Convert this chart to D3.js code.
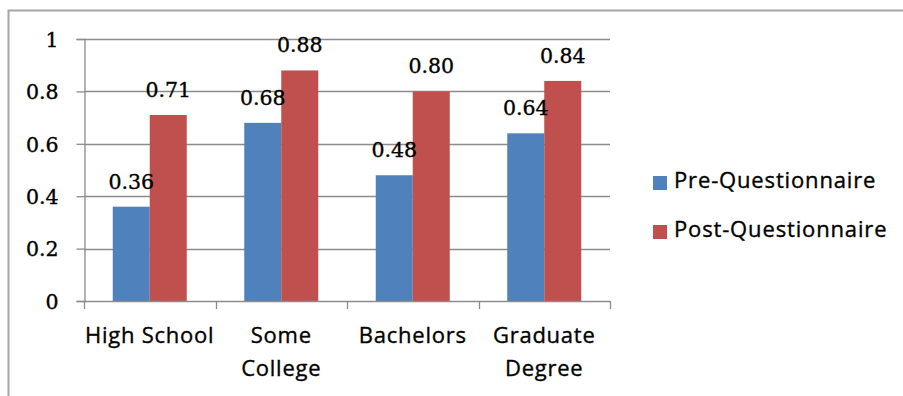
<!DOCTYPE html>
<html>
<head>
<meta charset="utf-8">
<script src="https://cdn.jsdelivr.net/npm/d3@7/dist/d3.min.js"></script>
<style>
  html, body { margin: 0; padding: 0; background: #fff; }
  svg { display: block; }
</style>
</head>
<body>
<svg id="chart" width="903" height="396"></svg>
<script>
// Education level categories (label lines)
const categories = ["High School", "Some College", "Bachelors", "Graduate Degree"];
const categoryLines = [["High School"], ["Some", "College"], ["Bachelors"], ["Graduate", "Degree"]];
const seriesNames = ["Pre-Questionnaire", "Post-Questionnaire"];
const preValues = [0.36, 0.68, 0.48, 0.64];
const postValues = [0.71, 0.88, 0.80, 0.84];
const yTicks = [0, 0.2, 0.4, 0.6, 0.8, 1];
const colors = ["#4F81BD", "#C0504D"];

const svg = d3.select("#chart");
const W = 903, H = 396;

// chart-area frame (runs off the right and bottom edges)
svg.append("rect")
  .attr("x", 8.5).attr("y", 10.5)
  .attr("width", W + 20).attr("height", H + 20)
  .attr("fill", "#fff")
  .attr("stroke", "#a6a6a6").attr("stroke-width", 2);

const plot = { left: 84, right: 610, top: 39, bottom: 301 };

const x = d3.scaleBand().domain(categories).range([plot.left, plot.right]).paddingInner(0).paddingOuter(0);
const y = d3.scaleLinear().domain([0, 1]).range([plot.bottom, plot.top]);
const barW = 37;
const x1 = d3.scaleBand().domain(seriesNames).range([0, barW * 2]);

const serifFont = "'DejaVu Serif', serif";
const sansFont = "'Open Sans', 'Noto Sans', sans-serif";

// slightly heavier text strokes
function heavy(sel) {
  return sel.attr("stroke", "#000").attr("stroke-width", 0.35).attr("paint-order", "stroke");
}

// gridlines
svg.append("g").selectAll("line").data(yTicks.filter(d => d > 0)).join("line")
  .attr("x1", plot.left).attr("x2", plot.right)
  .attr("y1", d => Math.round(y(d)) + 0.5).attr("y2", d => Math.round(y(d)) + 0.5)
  .attr("stroke", "#8c8c8c").attr("stroke-width", 1.3);

// bars
const data = categories.map((c, i) => ({ c, vals: [preValues[i], postValues[i]] }));
const groups = svg.append("g").selectAll("g").data(data).join("g")
  .attr("transform", d => `translate(${x(d.c) + x.bandwidth() / 2 - barW},0)`);

groups.selectAll("rect").data(d => d.vals.map((v, j) => ({ v, j }))).join("rect")
  .attr("x", d => x1(seriesNames[d.j]))
  .attr("width", barW)
  .attr("y", d => y(d.v))
  .attr("height", d => y(0) - y(d.v))
  .attr("fill", d => colors[d.j]);

// value labels
groups.selectAll("text").data(d => d.vals.map((v, j) => ({ v, j }))).join("text")
  .attr("x", d => x1(seriesNames[d.j]) + barW / 2)
  .attr("y", d => y(d.v) - 18)
  .attr("text-anchor", "middle")
  .attr("font-family", serifFont)
  .attr("font-size", 20.5)
  .attr("fill", "#000")
  .call(heavy)
  .text(d => d.v.toFixed(2));

// y axis
const yAxis = d3.axisLeft(y).tickValues(yTicks).tickSize(8).tickPadding(18)
  .tickFormat(d => d === 0 ? "0" : d === 1 ? "1" : String(d));
const gy = svg.append("g").attr("transform", `translate(${plot.left + 0.5},0)`).call(yAxis);
gy.select(".domain").attr("stroke", "#8c8c8c").attr("stroke-width", 1.3);
gy.selectAll(".tick line").attr("stroke", "#8c8c8c").attr("stroke-width", 1.3);
gy.selectAll(".tick text")
  .attr("font-family", serifFont).attr("font-size", 20.5).attr("fill", "#000").attr("dy", "0.36em")
  .call(heavy);

// x axis line and boundary ticks
const gx = svg.append("g");
gx.append("line")
  .attr("x1", plot.left).attr("x2", plot.right)
  .attr("y1", plot.bottom + 0.5).attr("y2", plot.bottom + 0.5)
  .attr("stroke", "#8c8c8c").attr("stroke-width", 1.3);
const boundaries = categories.map(c => x(c)).concat([plot.right]);
gx.selectAll("line.tk").data(boundaries).join("line").attr("class", "tk")
  .attr("x1", d => Math.round(d) + 0.5).attr("x2", d => Math.round(d) + 0.5)
  .attr("y1", plot.bottom).attr("y2", plot.bottom + 8)
  .attr("stroke", "#8c8c8c").attr("stroke-width", 1.3);

// category labels
const catG = gx.selectAll("text.cat").data(categories).join("text").attr("class", "cat")
  .attr("text-anchor", "middle")
  .attr("font-family", sansFont).attr("font-size", 22).attr("letter-spacing", 0.75)
  .attr("fill", "#000").call(heavy);
catG.each(function (c, i) {
  const t = d3.select(this);
  categoryLines[i].forEach((ln, k) => {
    t.append("tspan").attr("x", x(c) + x.bandwidth() / 2).attr("y", 343 + k * 33).text(ln);
  });
});

// legend
const legend = svg.append("g");
seriesNames.forEach((s, i) => {
  const yy = 176 + i * 49;
  legend.append("rect").attr("x", 653).attr("y", yy).attr("width", 14).attr("height", 14).attr("fill", colors[i]);
  legend.append("text").attr("x", 674).attr("y", yy + 12)
    .attr("font-family", sansFont).attr("font-size", 22).attr("letter-spacing", 0.85)
    .attr("fill", "#000").call(heavy).text(s);
});
</script>
</body>
</html>
